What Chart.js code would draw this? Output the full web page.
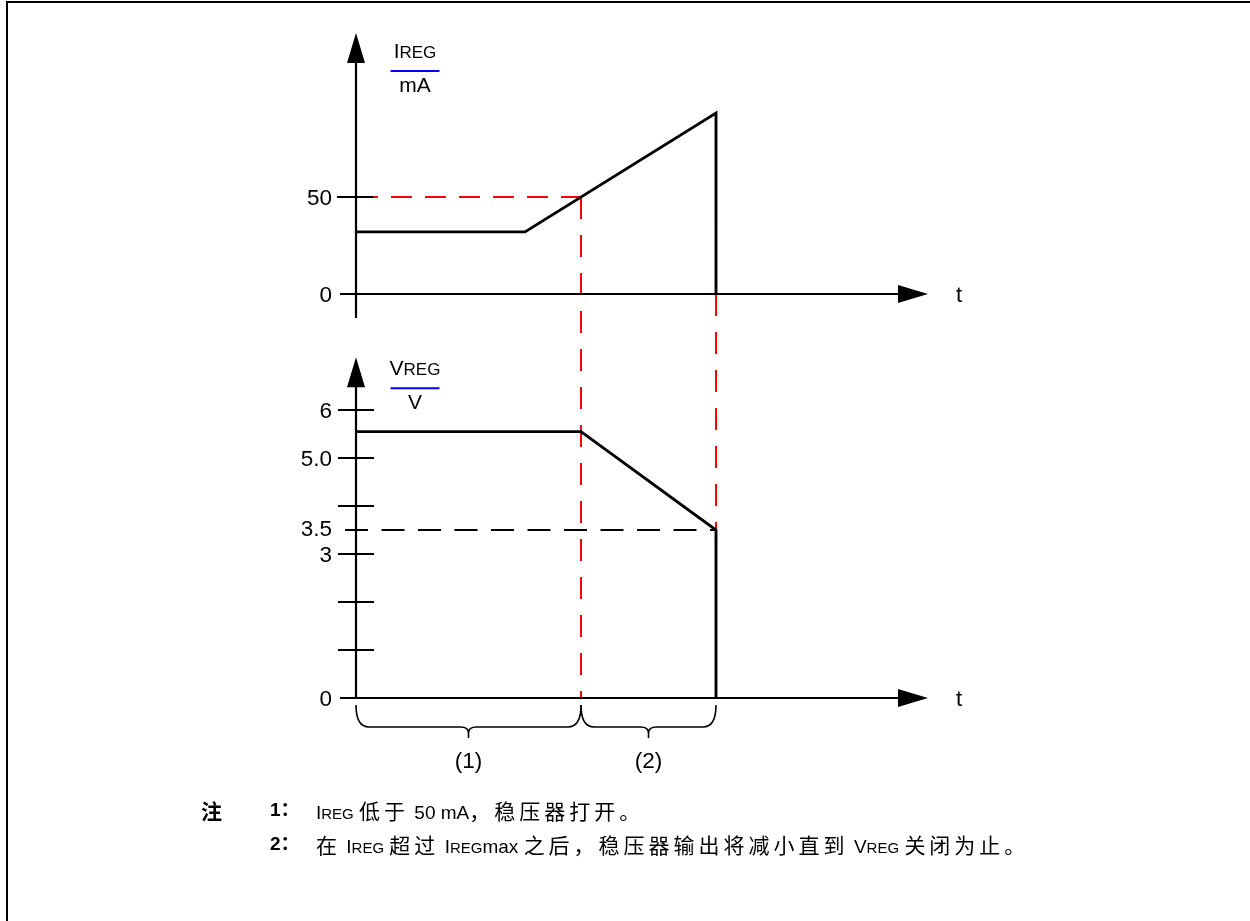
<!DOCTYPE html>
<html>
<head>
<meta charset="utf-8">
<script src="https://cdn.jsdelivr.net/npm/chart.js@4/dist/chart.umd.min.js"></script>
<style>
    body { margin: 0; background: #fff; overflow: hidden; width: 1250px; height: 921px; position: relative; }
    #frame { position: absolute; left: 6px; top: 1px; width: 1400px; height: 1000px;
             border-left: 2px solid #000; border-top: 2px solid #000; }
    #waveChart { position: absolute; left: 0; top: 0; }
    .note { position: absolute; left: 0; height: 26px; line-height: 26px; white-space: nowrap;
            font-family: "Liberation Sans", "Noto Sans CJK SC", sans-serif; font-size: 19px; color: #000; }
    .note > span { position: absolute; top: 0; }
    .note .mark { font-family: "Noto Sans CJK SC"; font-weight: bold; font-size: 21px; }
    .note .num { font-weight: bold; font-size: 19px; }
    .sc { font-size: 15px; }
    .cjk { font-family: "Noto Sans CJK SC"; font-size: 21px; letter-spacing: 4px; }
</style>
</head>
<body>
<div id="frame"></div>
<canvas id="waveChart" width="1250" height="921"></canvas>

<div class="note" style="top:797px">
    <span class="mark" style="left:201px">注</span>
    <span class="num" style="left:270px">1：</span>
    <span class="txt" style="left:316px">I<span class="sc">REG</span> <span class="cjk">低于</span> 50 mA<span class="cjk">，稳压器打开。</span></span>
</div>
<div class="note" style="top:831px">
    <span class="num" style="left:270px">2：</span>
    <span class="txt" style="left:316px"><span class="cjk">在</span> I<span class="sc">REG</span> <span class="cjk">超过</span> I<span class="sc">REG</span>max <span class="cjk">之后，稳压器输出将减小直到</span> V<span class="sc">REG</span> <span class="cjk">关闭为止。</span></span>
</div>

<script>
// ================= DATA =================
// time axis is in arbitrary units, t = 0 at the vertical axes
const iregTime = [0, 16.9, 36, 36];
const iregMA   = [32, 32, 93.3, 0];

const vregTime = [0, 22.5, 36, 36];
const vregV    = [5.55, 5.55, 3.5, 0];

const iTickValues = [0, 50];
const iTickLabels = ["0", "50"];

const vTickValues = [0, 1, 2, 3, 4, 5, 6];
const vTickLabels = ["0", "", "", "3", "", "5.0", "6"];

const iLimit = 50;          // mA, regulator switches on below this
const vCutoff = 3.5;        // V, regulator turns off here
const vCutoffLabel = "3.5";

const phaseBounds = [0, 22.5, 36];
const phaseLabels = ["(1)", "(2)"];

// axis extents
const tAxisStart = -1.6;
const tAxisEnd = 57.2;
const iAxisBottom = -12.4;
const iAxisTop = 134.5;
const vAxisTop = 7.1;

const FONT = '"Liberation Sans", Arial, sans-serif';

// ================= HELPERS =================
function line(ctx, x1, y1, x2, y2) {
    ctx.beginPath();
    ctx.moveTo(x1, y1);
    ctx.lineTo(x2, y2);
    ctx.stroke();
}

function arrowHead(ctx, tipX, tipY, dirX, dirY) {
    const len = 30, half = 9;
    const bx = tipX - dirX * len, by = tipY - dirY * len;
    ctx.beginPath();
    ctx.moveTo(tipX, tipY);
    ctx.lineTo(bx - dirY * half, by + dirX * half);
    ctx.lineTo(bx + dirY * half, by - dirX * half);
    ctx.closePath();
    ctx.fill();
}

function unitTitle(ctx, cx, baseline, first, rest, unit) {
    ctx.textBaseline = "alphabetic";
    ctx.textAlign = "left";
    ctx.font = "21px " + FONT;
    const w1 = ctx.measureText(first).width;
    ctx.font = "17px " + FONT;
    const w2 = ctx.measureText(rest).width;
    const x = cx - (w1 + w2) / 2;
    ctx.font = "21px " + FONT;
    ctx.fillText(first, x, baseline);
    ctx.font = "17px " + FONT;
    ctx.fillText(rest, x + w1, baseline);

    ctx.strokeStyle = "#0000ff";
    ctx.lineWidth = 2;
    line(ctx, cx - 24.5, baseline + 13, cx + 24.5, baseline + 13);

    ctx.font = "21px " + FONT;
    ctx.textAlign = "center";
    ctx.fillText(unit, cx, baseline + 34);
}

function brace(ctx, a, b, top) {
    const m = (a + b) / 2;
    const yH = top + 22, yTip = top + 33, r = 13;
    ctx.beginPath();
    ctx.moveTo(a, top);
    ctx.quadraticCurveTo(a, yH, a + r, yH);
    ctx.lineTo(m - 8, yH);
    ctx.quadraticCurveTo(m, yH, m, yH + 6);
    ctx.lineTo(m, yTip);
    ctx.moveTo(m, yH + 6);
    ctx.quadraticCurveTo(m, yH, m + 8, yH);
    ctx.lineTo(b - r, yH);
    ctx.quadraticCurveTo(b, yH, b, top);
    ctx.stroke();
}

// ================= AXES, GUIDES, LABELS =================
const diagramPlugin = {
    id: "diagram",
    beforeDatasetsDraw(chart) {
        const { ctx, scales: { x, yI, yV } } = chart;
        const x0 = x.getPixelForValue(0);
        const xStart = x.getPixelForValue(tAxisStart);
        const xEnd = x.getPixelForValue(tAxisEnd);
        const iZero = yI.getPixelForValue(0);
        const vZero = yV.getPixelForValue(0);
        const tSwitch = phaseBounds[1];
        const tOff = phaseBounds[2];

        ctx.save();

        // red guides: current limit and the two phase boundaries
        ctx.strokeStyle = "#ff0000";
        ctx.lineWidth = 2;
        ctx.setLineDash([21, 13]);
        line(ctx, x0 + 1, yI.getPixelForValue(iLimit), x.getPixelForValue(tSwitch), yI.getPixelForValue(iLimit));
        ctx.setLineDash([22, 16]);
        line(ctx, x.getPixelForValue(tSwitch), yI.getPixelForValue(iLimit), x.getPixelForValue(tSwitch), vZero);
        line(ctx, x.getPixelForValue(tOff), iZero, x.getPixelForValue(tOff), vZero);

        // black guide at the cut-off voltage
        ctx.strokeStyle = "#000";
        ctx.setLineDash([23, 13.5]);
        ctx.lineDashOffset = 29.5;
        line(ctx, x0 - 18, yV.getPixelForValue(vCutoff), x.getPixelForValue(tOff), yV.getPixelForValue(vCutoff));
        ctx.setLineDash([]);
        ctx.lineDashOffset = 0;

        // axes
        ctx.strokeStyle = "#000";
        ctx.fillStyle = "#000";
        ctx.lineWidth = 2.2;
        const iTop = yI.getPixelForValue(iAxisTop);
        const vTop = yV.getPixelForValue(vAxisTop);
        line(ctx, x0, yI.getPixelForValue(iAxisBottom), x0, iTop + 20);
        arrowHead(ctx, x0, iTop, 0, -1);
        line(ctx, xStart, iZero, xEnd - 20, iZero);
        arrowHead(ctx, xEnd, iZero, 1, 0);

        line(ctx, x0, vZero, x0, vTop + 20);
        arrowHead(ctx, x0, vTop, 0, -1);
        line(ctx, xStart, vZero, xEnd - 20, vZero);
        arrowHead(ctx, xEnd, vZero, 1, 0);

        // ticks and tick labels
        ctx.lineWidth = 2;
        ctx.font = "22.5px " + FONT;
        ctx.textAlign = "right";
        ctx.textBaseline = "alphabetic";
        iTickValues.forEach((v, i) => {
            const py = yI.getPixelForValue(v);
            if (v !== 0) line(ctx, x0 - 19, py, x0 + 17, py);
            ctx.fillText(iTickLabels[i], x0 - 24, py + 8);
        });
        vTickValues.forEach((v, i) => {
            const py = yV.getPixelForValue(v);
            if (v !== 0) line(ctx, x0 - 18, py, x0 + 18, py);
            if (vTickLabels[i]) ctx.fillText(vTickLabels[i], x0 - 24, py + 8);
        });
        ctx.fillText(vCutoffLabel, x0 - 24, yV.getPixelForValue(vCutoff) + 6);

        // time labels
        ctx.textAlign = "center";
        ctx.font = "22px " + FONT;
        ctx.fillText("t", xEnd + 31, iZero + 8);
        ctx.fillText("t", xEnd + 31, vZero + 8);

        // axis titles
        ctx.fillStyle = "#000";
        unitTitle(ctx, x0 + 59, iTop + 25, "I", "REG", "mA");
        ctx.fillStyle = "#000";
        unitTitle(ctx, x0 + 59, vTop + 18, "V", "REG", "V");

        // phase braces
        ctx.strokeStyle = "#000";
        ctx.fillStyle = "#000";
        ctx.lineWidth = 1.6;
        for (let i = 0; i < phaseLabels.length; i++) {
            const a = x.getPixelForValue(phaseBounds[i]);
            const b = x.getPixelForValue(phaseBounds[i + 1]);
            brace(ctx, a, b, vZero + 7);
            ctx.font = "22.5px " + FONT;
            ctx.textAlign = "center";
            ctx.fillText(phaseLabels[i], (a + b) / 2, vZero + 70);
        }

        ctx.restore();
    }
};

// ================= CHART =================
// 10 px per time unit, t = 0 at x = 356
// current: 0 mA at y = 294, 1.94 px per mA; voltage: 0 V at y = 698, 48 px per V
new Chart(document.getElementById("waveChart"), {
    type: "scatter",
    data: {
        datasets: [
            {
                label: "IREG",
                data: iregTime.map((t, i) => ({ x: t, y: iregMA[i] })),
                yAxisID: "yI",
                showLine: true,
                borderColor: "#000",
                borderWidth: 2.9,
                pointRadius: 0,
                tension: 0
            },
            {
                label: "VREG",
                data: vregTime.map((t, i) => ({ x: t, y: vregV[i] })),
                yAxisID: "yV",
                showLine: true,
                borderColor: "#000",
                borderWidth: 2.9,
                pointRadius: 0,
                tension: 0
            }
        ]
    },
    options: {
        responsive: false,
        animation: false,
        events: [],
        layout: { padding: 0 },
        plugins: {
            legend: { display: false },
            tooltip: { enabled: false }
        },
        scales: {
            x: { type: "linear", min: -35.6, max: 89.4, display: false },
            yI: { type: "linear", min: 151.546 - 921 / 1.94, max: 151.546, display: false },
            yV: { type: "linear", min: 698 / 48 - 921 / 48, max: 698 / 48, display: false }
        }
    },
    plugins: [diagramPlugin]
});
</script>
</body>
</html>
